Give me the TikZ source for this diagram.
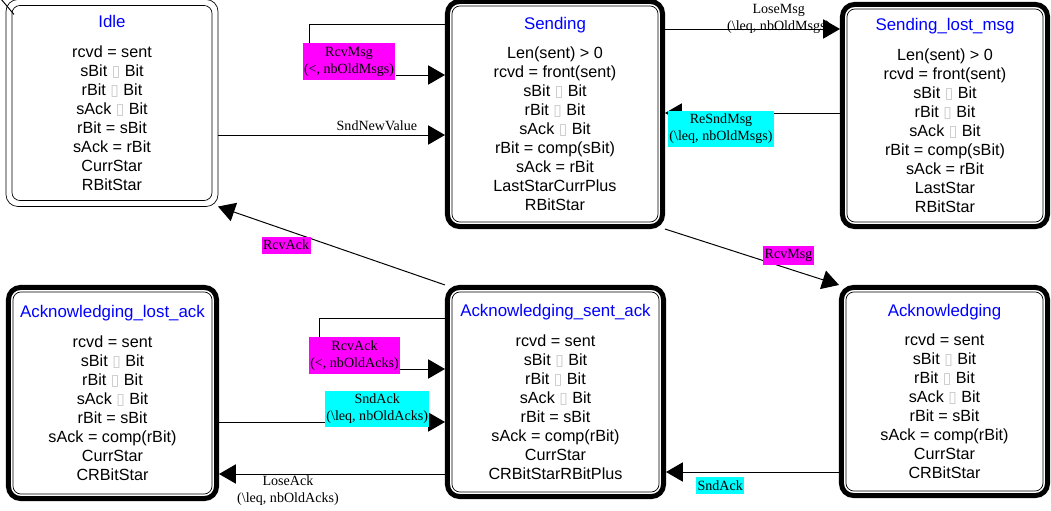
\documentclass[tikz,border=0pt]{standalone}
\usepackage{fontspec}
\setmainfont{Liberation Serif}
\newfontfamily\statefont{Liberation Sans}
\newfontfamily\nogfont{DejaVu Sans}
\usetikzlibrary{arrows.meta}

\definecolor{lblmag}{RGB}{255,0,255}
\definecolor{lblcyan}{RGB}{0,255,255}
\newcommand{\nog}{{\nogfont\fontsize{11}{11}\selectfont\color{gray!45}\symbol{"25AF}}}
\newcommand{\ttl}[1]{{\fontsize{12}{14}\selectfont\textcolor{blue}{#1}}\\[0.27cm]}

\begin{document}
\begin{tikzpicture}[x=0.025cm, y=-0.025cm,
  state/.style={draw, line width=0.5pt, rounded corners=0.2cm, align=center, inner sep=2pt,
    font=\statefont\fontsize{11.5}{13.5}\selectfont},
  bold state/.style={state, outer sep=0.175cm},
  lbl/.style={font=\fontsize{10}{12}\selectfont, align=center, inner xsep=1pt, inner ysep=2.5pt},
  tr/.style={line width=0.7pt, -{Triangle[length=0.42cm, width=0.48cm]}}]
\useasboundingbox (0,0) rectangle (1051,511);

% States
\node[state, outer sep=0.15cm, minimum width=5cm, minimum height=4.875cm] (I) at (112,103)
  {\ttl{Idle}rcvd = sent\\ sBit \nog{} Bit\\ rBit \nog{} Bit\\ sAck \nog{} Bit\\ rBit = sBit\\ sAck = rBit\\ CurrStar\\ RBitStar};
\node[bold state, minimum width=5.15cm, minimum height=5.4cm] (S) at (555,114)
  {\ttl{Sending}Len(sent) > 0\\ rcvd = front(sent)\\ sBit \nog{} Bit\\ rBit \nog{} Bit\\ sAck \nog{} Bit\\ rBit = comp(sBit)\\ sAck = rBit\\ LastStarCurrPlus\\ RBitStar};
\node[bold state, minimum width=4.9cm, minimum height=5.325cm] (SL) at (945,115.5)
  {\ttl{Sending\_lost\_msg}Len(sent) > 0\\ rcvd = front(sent)\\ sBit \nog{} Bit\\ rBit \nog{} Bit\\ sAck \nog{} Bit\\ rBit = comp(sBit)\\ sAck = rBit\\ LastStar\\ RBitStar};
\node[bold state, minimum width=4.975cm, minimum height=5.05cm] (AL) at (112.5,393)
  {\ttl{Acknowledging\_lost\_ack}rcvd = sent\\ sBit \nog{} Bit\\ rBit \nog{} Bit\\ sAck \nog{} Bit\\ rBit = sBit\\ sAck = comp(rBit)\\ CurrStar\\ CRBitStar};
\node[bold state, minimum width=5.175cm, minimum height=5cm] (AS) at (555.5,392)
  {\ttl{Acknowledging\_sent\_ack}rcvd = sent\\ sBit \nog{} Bit\\ rBit \nog{} Bit\\ sAck \nog{} Bit\\ rBit = sBit\\ sAck = comp(rBit)\\ CurrStar\\ CRBitStarRBitPlus};
\node[bold state, minimum width=4.925cm, minimum height=4.975cm] (A) at (944.5,391.5)
  {\ttl{Acknowledging}rcvd = sent\\ sBit \nog{} Bit\\ rBit \nog{} Bit\\ sAck \nog{} Bit\\ rBit = sBit\\ sAck = comp(rBit)\\ CurrStar\\ CRBitStar};

% Outer borders
\draw[line width=0.5pt, rounded corners=0.3cm] (I.north west) rectangle (I.south east);
\foreach \n in {S,SL,AL,AS,A}
  \draw[line width=0.125cm, rounded corners=0.3cm] ([shift={(2.5,2.5)}]\n.north west) rectangle ([shift={(-2.5,-2.5)}]\n.south east);

% Initial state
\coordinate (init) at (1,-1);
\draw[line width=0.7pt] (init) -- ([shift={(8,15)}]I.north west);

% Transitions
\draw[tr] (I.east |- 0,135) -- node[lbl, pos=0.7, above] {SndNewValue} (S.west |- 0,135);
\draw[tr] (S.east |- 0,29) -- node[lbl, pos=0.65, yshift=0.25cm] {LoseMsg\\(\textbackslash leq, nbOldMsgs)} (SL.west |- 0,29);
\draw[tr] (SL.west |- 0,113) -- node[lbl, fill=lblcyan, pos=0.68, yshift=-0.4cm] {ReSndMsg\\(\textbackslash leq, nbOldMsgs)} (S.east |- 0,113);
\draw[tr] (S.south east) -- node[lbl, fill=lblmag, pos=0.71, yshift=0.33cm] {RcvMsg} (A.north west);
\draw[tr] (AS.north west) -- node[lbl, fill=lblmag, pos=0.7, yshift=-0.375cm] {RcvAck} (I.south east);
\draw[tr] (AL.east |- 0,422) -- node[lbl, fill=lblcyan, pos=0.7, yshift=0.325cm] {SndAck\\(\textbackslash leq, nbOldAcks)} (AS.west |- 0,422);
\draw[tr] (AS.west |- 0,474) -- node[lbl, pos=0.695, yshift=-0.41cm] {LoseAck\\(\textbackslash leq, nbOldAcks)} (AL.east |- 0,474);
\draw[tr] (A.west |- 0,472) -- node[lbl, fill=lblcyan, pos=0.687, yshift=-0.34cm] {SndAck} (AS.east |- 0,472);

% Self loops
\node[lbl, fill=lblmag] (rcvmsgloop) at (349,61.5) {RcvMsg\\(<, nbOldMsgs)};
\draw[line width=0.7pt] (S.west |- 0,24) -| ([xshift=0.175cm]rcvmsgloop.north west);
\draw[tr] (rcvmsgloop.east |- 0,75) -- (S.west |- 0,75);

\node[lbl, fill=lblmag] (rcvackloop) at (354.5,355.5) {RcvAck\\(<, nbOldAcks)};
\draw[line width=0.7pt] (AS.west |- 0,318) -| ([xshift=0.275cm]rcvackloop.north west);
\draw[tr] (rcvackloop.east |- 0,369) -- (AS.west |- 0,369);

\end{tikzpicture}
\end{document}
